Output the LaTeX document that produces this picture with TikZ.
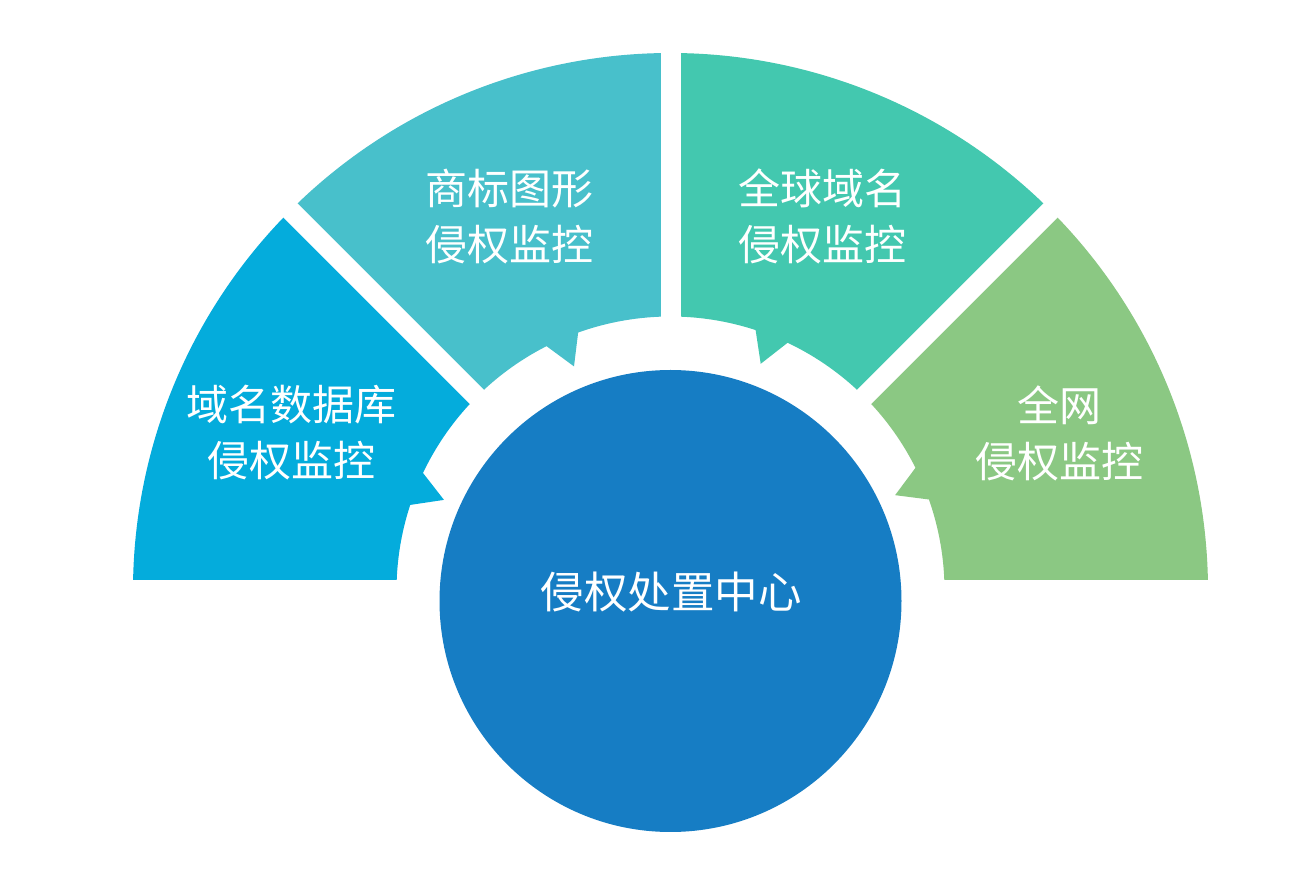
\documentclass[tikz,border=0pt]{standalone}
\usepackage{fontspec}
\newfontfamily\cjk{Noto Sans CJK SC}
\definecolor{segA}{RGB}{4,172,220}
\definecolor{segB}{RGB}{72,192,203}
\definecolor{segC}{RGB}{67,200,175}
\definecolor{segD}{RGB}{139,200,131}
\definecolor{hub}{RGB}{22,125,196}
\tikzset{
  lbl/.style={text=white, align=center, font=\cjk\fontsize{42}{56}\selectfont, inner sep=0pt},
  hublbl/.style={text=white, align=center, font=\cjk\fontsize{43.5}{56}\selectfont, inner sep=0pt},
  gapline/.style={white, line width=20pt, line cap=butt},
}
\newcommand{\segpath}[4]{% start angle, end angle, tooth angle, colour
  \fill[#4] (#1:537.5) arc[start angle=#1, end angle=#2, radius=537.5]
    -- (#2:274) arc[start angle=#2, end angle=#3-3.6, radius=274]
    -- (#3:244) -- (#3+3.6:274)
    arc[start angle=#3+3.6, end angle=#1, radius=274] -- cycle;}
\begin{document}
\begin{tikzpicture}[x=1pt,y=1pt]
\useasboundingbox (0,0) rectangle (1302,876);
\fill[white] (0,0) rectangle (1302,876);
\begin{scope}[shift={(670.5,285.5)}]
  \segpath{180}{135}{158.2}{segA}
  \segpath{135}{90}{113.3}{segB}
  \segpath{90}{45}{68.3}{segC}
  \segpath{45}{0}{23.0}{segD}
  \foreach \a in {0,45,90,135,180}
    \draw[gapline] (0,0) -- (\a:570);
  \coordinate (hubc) at (0,-10.5);
\end{scope}
\fill[hub] (hubc) circle[radius=231];
\node[lbl] (t1) at (291.5,443) {域名数据库\\侵权监控};
\node[lbl] (t2) at (509,659.5) {商标图形\\侵权监控};
\node[lbl] (t3) at (822.5,659.5) {全球域名\\侵权监控};
\node[lbl] (t4) at (1059,442.5) {全网\\侵权监控};
\node[hublbl] (tc) at (671,283.5) {侵权处置中心};
\end{tikzpicture}
\end{document}
